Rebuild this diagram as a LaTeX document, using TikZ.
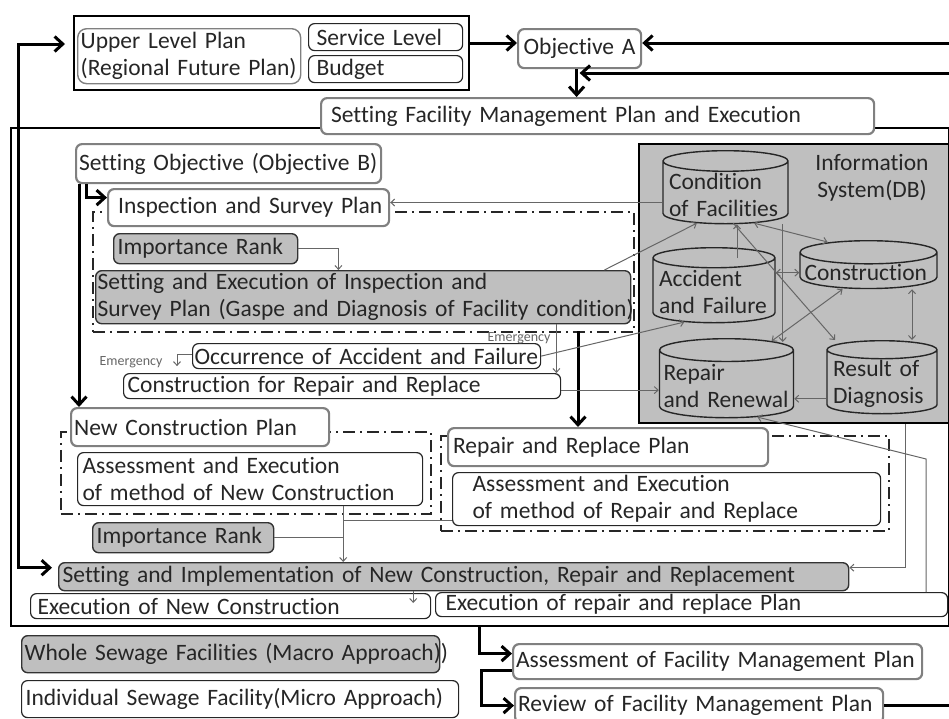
\documentclass[tikz,border=0pt]{standalone}
\usepackage{fontspec}
\setmainfont{Carlito}[Ligatures=NoCommon]
\usetikzlibrary{arrows.meta,shapes.geometric}

\begin{document}
\begin{tikzpicture}[
  x=1pt,y=-1pt,
  >={Straight Barb[length=1.6pt 2.2,width=3pt 4]},
  every node/.style={font=\fontsize{23.5}{27}\selectfont,text=black!85},
  panel/.style={draw=black,line width=2pt,anchor=north west,inner sep=0pt},
  box/.style={draw=black!85,line width=1.2pt,rounded corners=6pt,fill=white,
    anchor=north west,inner xsep=3pt,inner ysep=0pt,align=left},
  gbox/.style={box,draw=black!50,line width=2.2pt},
  fbox/.style={box,draw=black!80,line width=1.4pt,fill=black!25},
  db/.style={cylinder,shape border rotate=90,aspect=0.17,draw=black!85,line width=1.4pt,
    fill=black!25,inner xsep=4pt,inner ysep=0pt,align=left,anchor=north},
  dashdot/.style={draw=black!85,line width=1.6pt,dash pattern=on 12pt off 5pt on 2pt off 5pt,
    anchor=north west,inner sep=0pt},
  flow/.style={draw=black,line width=3pt},
  link/.style={draw=black!60,line width=1pt},
  tag/.style={font=\fontsize{14}{16}\selectfont,text=black!60},
]
\useasboundingbox (0,0) rectangle (949,718);
% frames
\node[panel,minimum width=938pt,minimum height=498pt] (frame) at (10,127) {};
\node[dashdot,minimum width=541pt,minimum height=120pt] (insframe) at (92,211) {};
\node[dashdot,minimum width=370pt,minimum height=82pt] (newframe) at (60,431) {};
\node[dashdot,minimum width=448pt,minimum height=95pt] (repframe) at (440,435) {};
\node[panel,fill=black!25,minimum width=310pt,minimum height=279pt] (infodb) at (638,143) {};
\node[align=center] (infosys) at (872,178) {Information\\System(DB)};

% upper level
\node[panel,minimum width=395pt,minimum height=74pt] (top) at (73,15) {};
\node[gbox,line width=1.4pt,rounded corners=9pt,text width=217pt,minimum height=55pt] (upper) at (77,28) {\mbox{Upper Level Plan}\\\mbox{(Regional Future Plan)}};
\node[box,inner xsep=8pt,text width=138pt,minimum height=27pt] (service) at (308,23) {\mbox{Service Level}};
\node[box,inner xsep=8pt,text width=138pt,minimum height=27pt] (budget) at (308,55) {Budget};
\node[gbox,align=center,text width=117pt,minimum height=39pt] (objA) at (517,28) {\mbox{Objective A}};
\node[gbox,inner xsep=10pt,text width=533pt,minimum height=36pt] (setfmp) at (320,97) {\mbox{Setting Facility Management Plan and Execution}};

% inspection part
\node[gbox,text width=299pt,minimum height=39pt] (objB) at (75,143) {\mbox{Setting Objective (Objective B)}};
\node[gbox,inner xsep=10pt,text width=261pt,minimum height=37pt] (insp) at (107,188) {\mbox{Inspection and Survey Plan}};
\node[fbox,inner xsep=4pt,text width=176pt,minimum height=30pt] (rank1) at (113,233) {\mbox{Importance Rank}};
\node[fbox,inner xsep=2pt,text width=531pt,minimum height=53pt] (setexe) at (95,270) {\mbox{Setting and Execution of Inspection and}\\\mbox{Survey Plan (Gaspe and Diagnosis of Facility condition)}};
\node[box,inner xsep=2pt,text width=344pt,minimum height=25pt] (occur) at (192,343) {\mbox{Occurrence of Accident and Failure}};
\node[box,inner xsep=4pt,text width=429pt,minimum height=25pt] (crr) at (123,373) {\mbox{Construction for Repair and Replace}};

% construction part
\node[gbox,text width=252pt,minimum height=38pt] (newcp) at (70,407) {\mbox{New Construction Plan}};
\node[box,inner xsep=5pt,text width=335pt,minimum height=53pt] (assnc) at (77,452) {\mbox{Assessment and Execution}\\\mbox{of method of New Construction}};
\node[fbox,inner xsep=4pt,text width=173pt,minimum height=30pt] (rank2) at (92,522) {\mbox{Importance Rank}};
\node[gbox,inner xsep=5pt,text width=310pt,minimum height=38pt] (rrp) at (447,427) {\mbox{Repair and Replace Plan}};
\node[box,inner xsep=20pt,text width=388pt,minimum height=53pt] (assrr) at (452,472) {\mbox{Assessment and Execution}\\\mbox{of method of Repair and Replace}};
\node[fbox,inner xsep=4pt,text width=782pt,minimum height=28pt] (impl) at (58,562) {\mbox{Setting and Implementation of New Construction, Repair and Replacement}};
\node[box,inner xsep=7pt,text width=386pt,minimum height=25pt] (exnc) at (30,593) {\mbox{Execution of New Construction}};
\node[box,inner xsep=10pt,text width=492pt,minimum height=24pt] (exrr) at (435,592) {\mbox{Execution of repair and replace Plan}};

% legend and assessment
\node[fbox,inner xsep=3pt,text width=412pt,minimum height=37pt] (whole) at (21,635) {\mbox{Whole Sewage Facilities (Macro Approach)\rlap{)}}};
\node[box,inner xsep=4pt,text width=429pt,minimum height=37pt] (indiv) at (21,680) {\mbox{Individual Sewage Facility(Micro Approach)}};
\node[gbox,inner xsep=3pt,text width=403pt,minimum height=35pt] (assfmp) at (512,643) {\mbox{Assessment of Facility Management Plan}};
\node[gbox,inner xsep=3pt,text width=362pt,minimum height=35pt] (review) at (514,687) {\mbox{Review of Facility Management Plan}};

% databases
\node[db,text width=113pt,minimum width=125pt,minimum height=73pt] (cond) at (725.5,150) {Condition\\\mbox{of Facilities}};
\node[db,text width=128pt,minimum width=137pt,minimum height=43pt] (cons) at (868.5,240) {Construction};
\node[db,text width=110pt,minimum width=122pt,minimum height=75pt] (acc) at (714,247) {Accident\\\mbox{and Failure}};
\node[db,text width=126pt,minimum width=133pt,minimum height=79pt] (repren) at (726.5,338) {Repair\\\mbox{and Renewal}};
\node[db,text width=98pt,minimum width=110pt,minimum height=73pt] (result) at (882,340) {\mbox{Result of}\\Diagnosis};

\node[tag] (em1) at (519,338) {Emergency};
\node[tag] (em2) at (131,362) {Emergency};

\coordinate (inA) at (949,43);
\coordinate (inB) at (949,73);
\coordinate (fb) at (18,300);
\coordinate (drop) at (578,331);
\coordinate (out) at (479,625);

% main flow
\draw[flow,<->] ([xshift=-8pt,yshift=9pt]top.west) -| (fb) |- ([xshift=-6pt,yshift=9pt]impl.west);
\draw[flow,->] (top.east |- inA) -- (objA.west |- inA);
\draw[flow,->] (inA) -- (objA.east |- inA);
\draw[flow,->] (inB) -- (objA.south |- inB);
\draw[flow,->] ([xshift=-3pt]objA.south) -- ([xshift=-3pt]objA.south |- setfmp.north);
\draw[flow,->] ([xshift=11pt]objB.south west) |- ([yshift=10pt]insp.west);
\draw[flow,->] ([xshift=4pt]objB.south west) -- ([xshift=9pt]newcp.north west);
\draw[flow,->] (drop) -- (drop |- rrp.north);
\draw[flow,->] (out) |- ([yshift=8pt]assfmp.west);
\draw[flow,->] ([yshift=-9pt]assfmp.west) -| ([xshift=-33pt]review.west) -- (review.west);
\draw[flow] (review.east) -- (review.east -| inA);

% thin links
\draw[link,->] ([yshift=-8pt]cond.west) -- ([yshift=-8pt]cond.west -| insp.east);
\draw[link,->] (rank1.east) -| ([xshift=40pt]rank1.east |- setexe.north);
\draw[link,->] ([xshift=-27pt]setexe.north east) -- (cond.south west);
\draw[link,->] ([xshift=-75pt]setexe.south east) -- ([xshift=-75pt]setexe.south east |- crr.north);
\draw[link,->] (occur.east) -- (acc.south west);
\draw[link,->] ([yshift=2pt]occur.west) -| ([xshift=-15pt,yshift=-10pt]occur.west);
\draw[link,->] ([yshift=-4pt]crr.east) -- ([yshift=-4pt]crr.east -| repren.west);
\draw[link] (rank2.east) -- ([xshift=-80pt]assnc.south east |- rank2.east);
\draw[link] ([yshift=-21pt]assrr.west) -| ([xshift=-80pt]assnc.south east);
\draw[link,->] ([xshift=-80pt]assnc.south east) -- ([xshift=-80pt]assnc.south east |- impl.north);
\draw[link,->] ([xshift=-45pt]infodb.south east) |- ([yshift=9pt]impl.east);
\draw[link,->] ([xshift=-22pt]exrr.north east) -- ++(0,-133) -- (repren.south east);
\draw[link,->] ([xshift=-18pt]exnc.north east |- impl.south) -- ([xshift=-18pt,yshift=-10pt]exnc.north east);

% inside the information system
\draw[link,->] ([xshift=23pt,yshift=-11pt]acc.north) -- ([xshift=23pt]acc.north |- cond.south);
\draw[link,<->] (cond.south east) -- ([xshift=-41pt,yshift=-2pt]cons.north);
\draw[link,<->] (cons.west -| acc.east) -- (cons.west);
\draw[link,->] ([xshift=-6pt]cond.east |- cond.south) -- ([xshift=-6pt,yshift=-4pt]cond.east |- repren.north);
\draw[link,->] ([xshift=-21pt]cond.south east) -- ([xshift=-47pt]result.north);
\draw[link,<->] ([xshift=-26pt]cons.south) -- (repren.north east);
\draw[link,<->] ([xshift=30pt]result.north |- cons.south) -- ([xshift=30pt]result.north);
\draw[link,->] ([yshift=-15pt]result.west) -- ([yshift=-15pt]result.west -| repren.east);
\end{tikzpicture}
\end{document}
